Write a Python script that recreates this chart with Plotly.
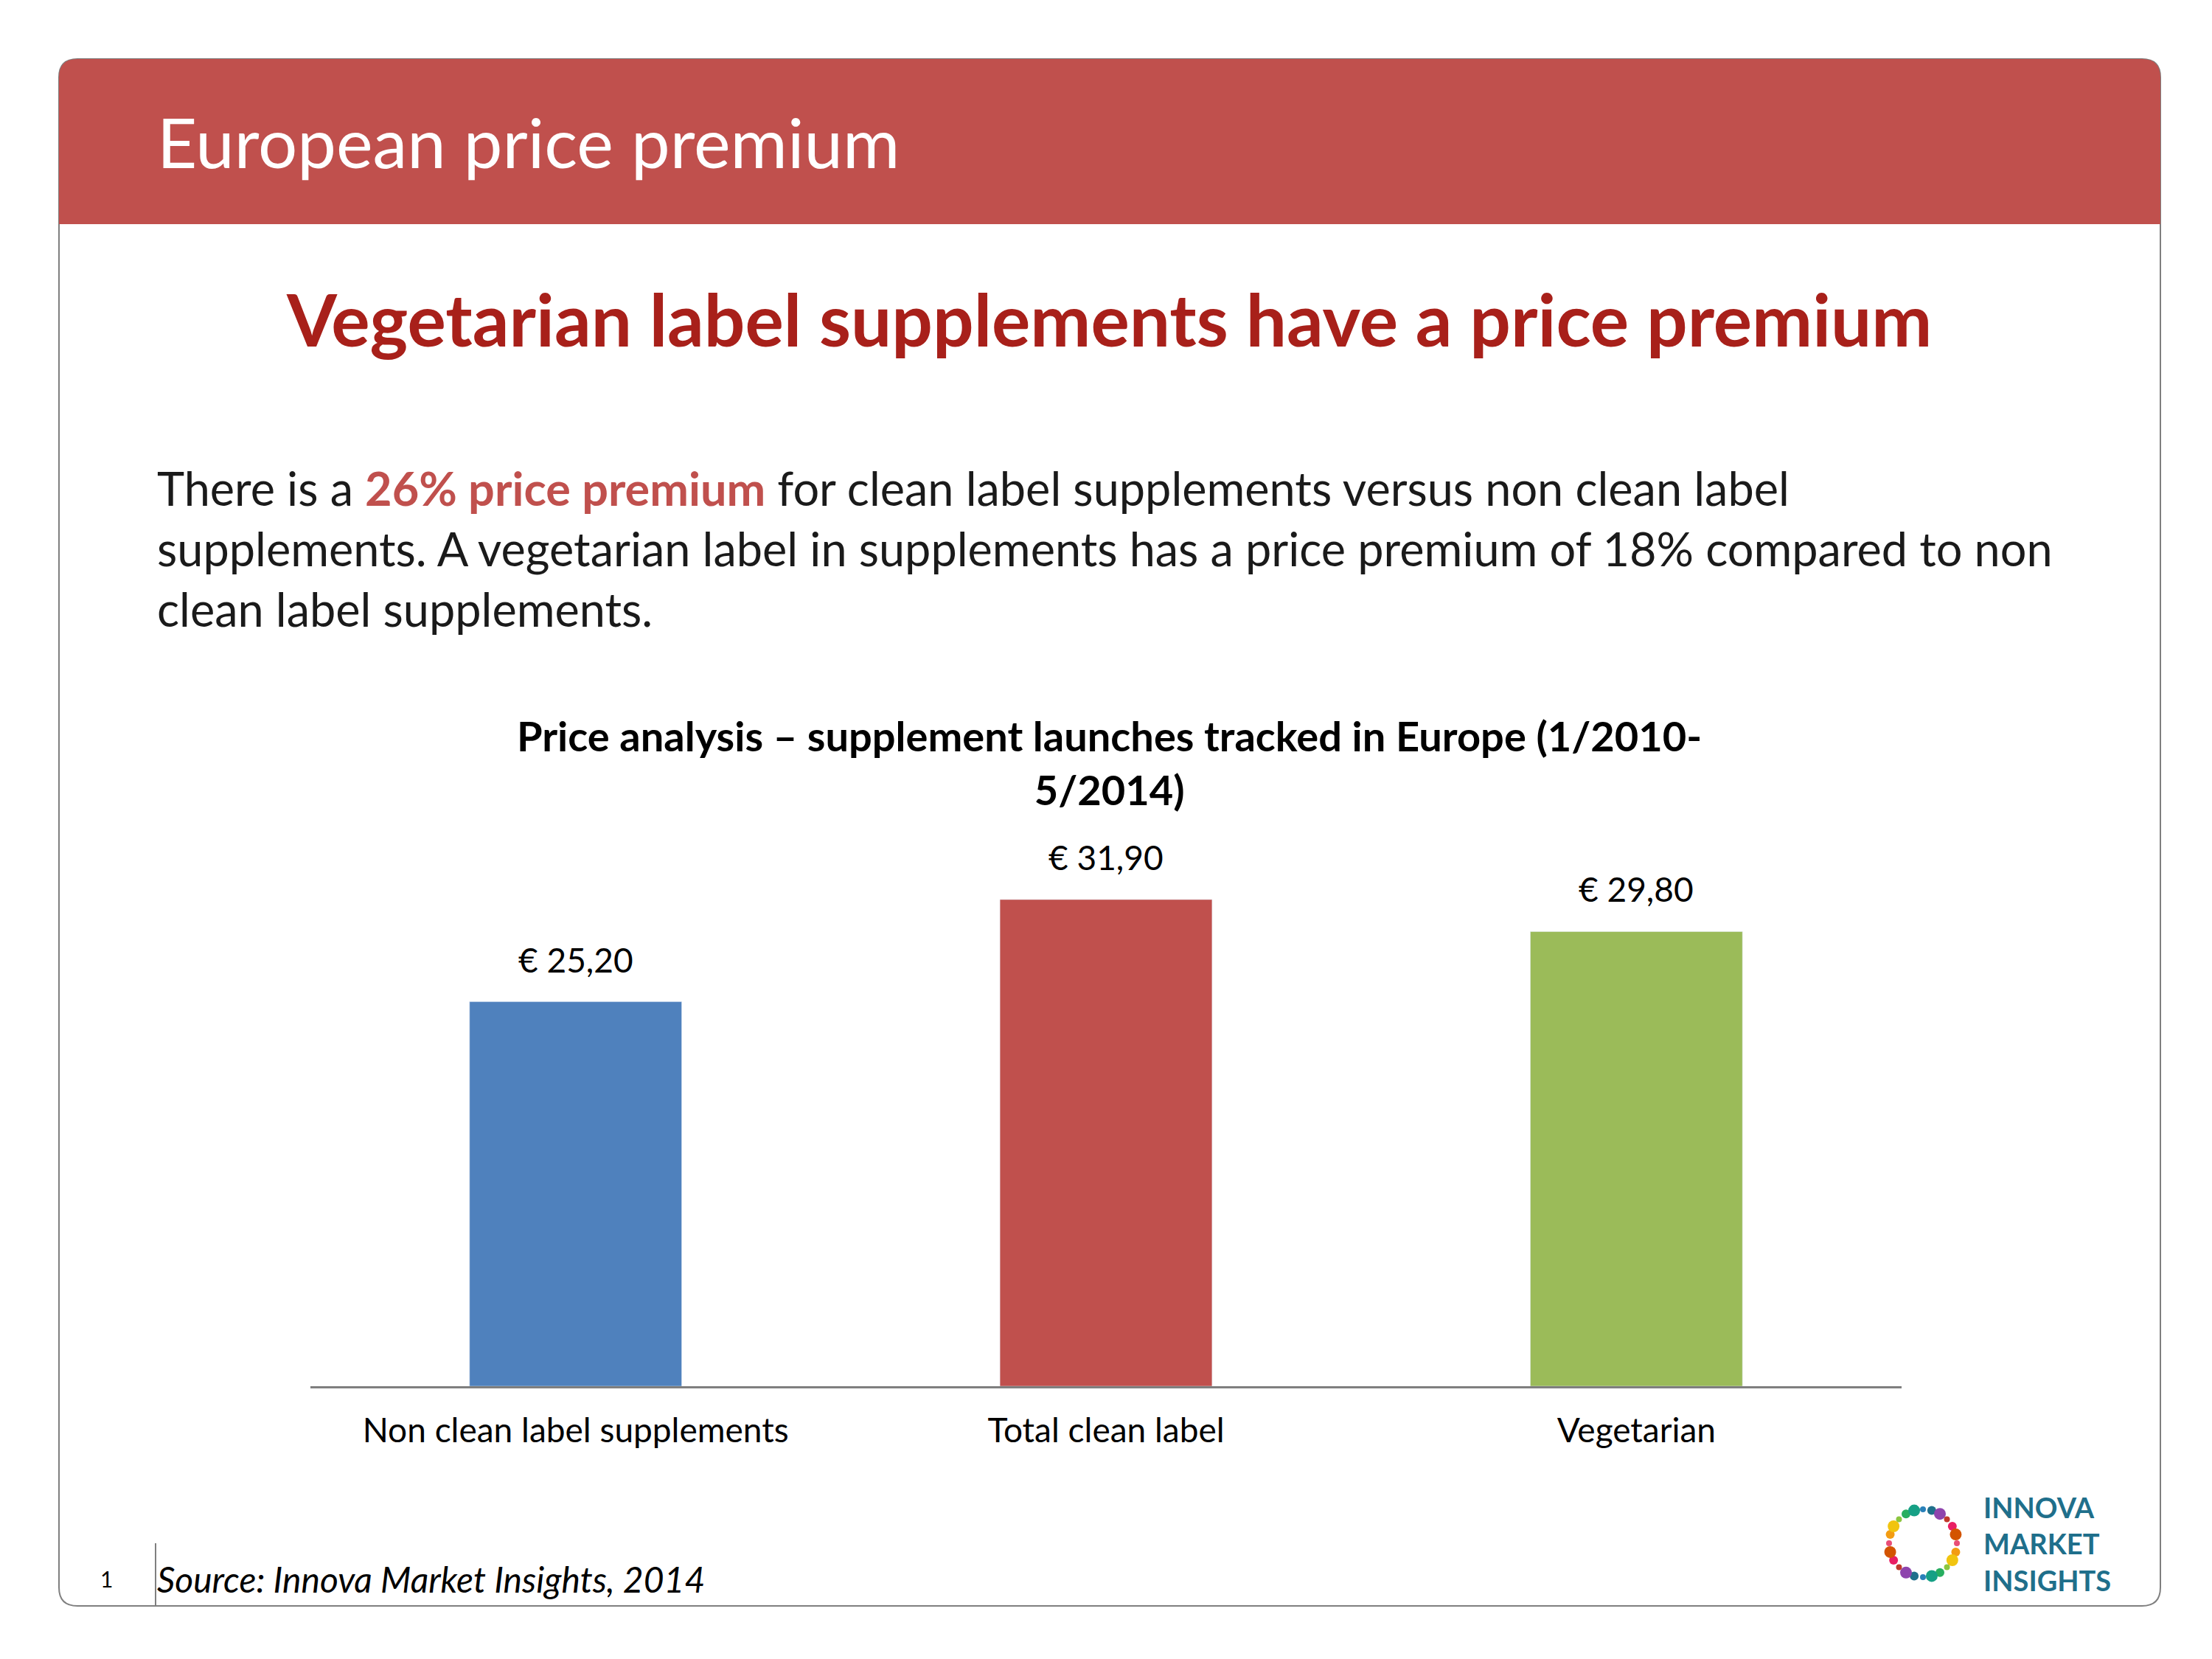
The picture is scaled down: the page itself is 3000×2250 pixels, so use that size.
"""European price premium slide recreated with Plotly."""

import math

import plotly.graph_objects as go

W, H = 3000, 2250

categories = ["Non clean label supplements", "Total clean label", "Vegetarian"]
prices = [25.20, 31.90, 29.80]
price_labels = ["€ 25,20", "€ 31,90", "€ 29,80"]
bar_colors = ["#4f81bd", "#c0504d", "#9bbb59"]

FONT = "Lato"


def px(x):
    return x / W


def py(y):
    return 1 - y / H


fig = go.Figure()
fig.add_trace(
    go.Bar(
        x=categories,
        y=prices,
        marker_color=bar_colors,
        width=0.4,
        hoverinfo="x+y",
    )
)

L, R, T, B = 72, 2922, 72, 2170

shapes = [
    # frame
    dict(type="path", xref="paper", yref="paper",
         path=f"M {px(L+25)},{py(T)} L {px(R-25)},{py(T)} Q {px(R)},{py(T)} {px(R)},{py(T+25)} "
              f"L {px(R)},{py(B-25)} Q {px(R)},{py(B)} {px(R-25)},{py(B)} "
              f"L {px(L+25)},{py(B)} Q {px(L)},{py(B)} {px(L)},{py(B-25)} "
              f"L {px(L)},{py(T+25)} Q {px(L)},{py(T)} {px(L+25)},{py(T)} Z",
         line=dict(color="#7f7f7f", width=2), fillcolor="white", layer="below"),
    # header band
    dict(type="path", xref="paper", yref="paper",
         path=f"M {px(L+25)},{py(T)} L {px(R-25)},{py(T)} Q {px(R)},{py(T)} {px(R)},{py(T+25)} "
              f"L {px(R)},{py(296)} L {px(L)},{py(296)} L {px(L)},{py(T+25)} "
              f"Q {px(L)},{py(T)} {px(L+25)},{py(T)} Z",
         line=dict(width=0), fillcolor="#c0504d", layer="below"),
    # footer separator
    dict(type="line", xref="paper", yref="paper", x0=px(203), x1=px(203), y0=py(2085), y1=py(B),
         line=dict(color="#7f7f7f", width=2)),
]

# logo dots ring
dot_colors = ["#e94e77", "#f39c12", "#f1c40f", "#8cc63f", "#27ae60", "#16a085",
              "#2980b9", "#1f6f8b", "#8e44ad", "#c0392b", "#e91e63", "#d35400"]
cx, cy, r = 2600, 2085, 46
for i in range(24):
    a = 2 * math.pi * i / 24
    dx, dy = cx + r * math.cos(a), cy + r * math.sin(a)
    rr = 4 + 2 * (i % 3)
    shapes.append(dict(type="circle", xref="paper", yref="paper",
                       x0=px(dx - rr), x1=px(dx + rr), y0=py(dy - rr), y1=py(dy + rr),
                       fillcolor=dot_colors[i % len(dot_colors)], line=dict(width=0)))

annotations = [
    dict(text="European price premium", x=px(203), y=py(183), xanchor="left", yanchor="middle",
         font=dict(size=94, color="white", family=FONT)),
    dict(text="<b>Vegetarian label supplements have a price premium</b>", x=px(1496), y=py(424),
         xanchor="center", yanchor="middle", font=dict(size=98, color="#a8201a", family=FONT)),
    dict(text="There is a <b><span style='color:#c0504d'>26% price premium</span></b> for clean label supplements versus non clean label"
              "<br>supplements. A vegetarian label in supplements has a price premium of 18% compared to non"
              "<br>clean label supplements.",
         x=px(203), y=py(614), xanchor="left", yanchor="top", align="left",
         font=dict(size=63, color="#1a1a1a", family=FONT)),
    dict(text="<b>Price analysis – supplement launches tracked in Europe (1/2010-<br>5/2014)</b>",
         x=px(1496), y=py(1026), xanchor="center", yanchor="middle",
         font=dict(size=56, color="#000000", family=FONT)),
    dict(text="1", x=px(136), y=py(2133), xanchor="center", yanchor="middle",
         font=dict(size=30, color="#000000", family=FONT)),
    dict(text="<i>Source: Innova Market Insights, 2014</i>", x=px(203), y=py(2133), xanchor="left",
         yanchor="middle", font=dict(size=48, color="#000000", family=FONT)),
    dict(text="<b>INNOVA<br>MARKET<br>INSIGHTS</b>", x=px(2680), y=py(2085), xanchor="left",
         yanchor="middle", align="left", font=dict(size=38, color="#1f6f8b", family=FONT)),
]
for a in annotations:
    a.update(xref="paper", yref="paper", showarrow=False)

for cat, val, lab in zip(categories, prices, price_labels):
    annotations.append(dict(x=cat, y=val, xref="x", yref="y", text=lab, showarrow=False,
                            yanchor="bottom", yshift=28,
                            font=dict(size=46, color="#000000", family=FONT)))

fig.update_layout(
    width=W,
    height=H,
    margin=dict(l=0, r=0, t=0, b=0),
    paper_bgcolor="white",
    plot_bgcolor="rgba(0,0,0,0)",
    showlegend=False,
    shapes=shapes,
    annotations=annotations,
    xaxis=dict(domain=[px(413), px(2571)], showline=True, linecolor="#7f7f7f", linewidth=3,
               ticks="", ticklabelstandoff=18,
               tickfont=dict(size=46, color="#000000", family=FONT), showgrid=False),
    yaxis=dict(domain=[py(1872), py(1141)], range=[0, 35.33], visible=False, showgrid=False),
)

fig.write_html("out.html")
